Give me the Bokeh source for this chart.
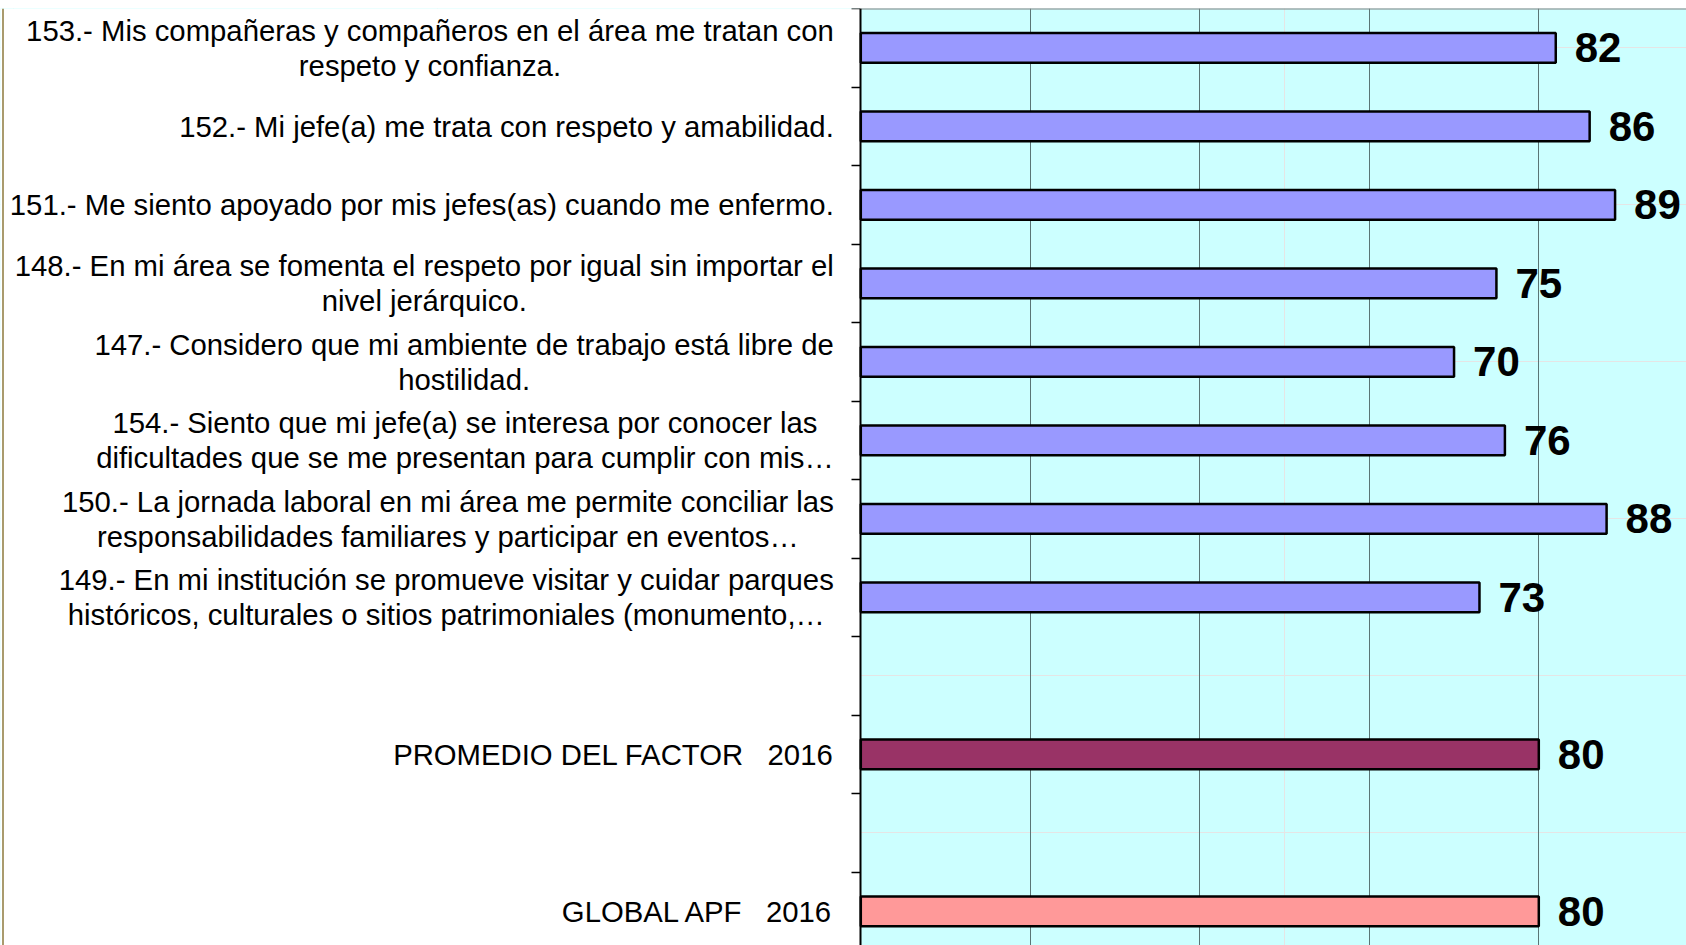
from bokeh.plotting import figure
from bokeh.models import Range1d, LinearAxis, FixedTicker, Grid, BoxAnnotation, ColumnDataSource
from bokeh.core.properties import value
from bokeh.embed import file_html
from bokeh.resources import INLINE

# ---------------- data ----------------
categories = [
    "153.- Mis compañeras y compañeros en el área me tratan con\nrespeto y confianza.",
    "152.- Mi jefe(a) me trata con respeto y amabilidad.",
    "151.- Me siento apoyado por mis jefes(as) cuando me enfermo.",
    "148.- En mi área se fomenta el respeto por igual sin importar el\nnivel jerárquico.",
    "147.- Considero que mi ambiente de trabajo está libre de\nhostilidad.",
    "154.- Siento que mi jefe(a) se interesa por conocer las\ndificultades que se me presentan para cumplir con mis…",
    "150.- La jornada laboral en mi área me permite conciliar las\nresponsabilidades familiares y participar en eventos…",
    "149.- En mi institución se promueve visitar y cuidar parques\nhistóricos, culturales o sitios patrimoniales (monumento,…",
    "",
    "PROMEDIO DEL FACTOR\u00a0\u00a0\u00a02016",
    "",
    "GLOBAL APF\u00a0\u00a0\u00a02016",
]
values = [82, 86, 89, 75, 70, 76, 88, 73, None, 80, None, 80]
bar_colors = ["#9999FF"] * 8 + [None, "#993366", None, "#FF9999"]
grid_ticks = [20, 40, 60, 80, 100]

# ---------------- layout constants ----------------
W, H = 1686, 945
FRAME_TOP = 8          # page y where plot area starts
AXIS_PX = 860.3        # page x of value 0
PX_PER_UNIT = 8.475    # pixels per value unit
SLOT_PX = 78.5         # pixels per category slot
FIRST_BOUND_PX = 8.05  # page y of top slot boundary

x_start = -AXIS_PX / PX_PER_UNIT
x_end = x_start + W / PX_PER_UNIT
y_top = -0.5 - (FIRST_BOUND_PX - FRAME_TOP) / SLOT_PX
y_bottom = y_top + (H - FRAME_TOP) / SLOT_PX

FONT = value("Liberation Sans")

p = figure(
    width=W, height=H,
    x_range=Range1d(x_start, x_end),
    y_range=Range1d(y_bottom, y_top),
    output_backend="svg", toolbar_location=None,
    x_axis_location=None, y_axis_location=None,
    min_border=0, min_border_left=0, min_border_right=0,
    min_border_top=FRAME_TOP, min_border_bottom=0,
    background_fill_color="#CCFFFF", border_fill_color="white",
    outline_line_color=None,
)

# white label area left of the value axis
p.add_layout(BoxAnnotation(right=0, fill_color="white", fill_alpha=1.0,
                           line_color=None, level="underlay"))

# vertical grid lines
p.add_layout(Grid(dimension=0, ticker=FixedTicker(ticks=grid_ticks),
                  grid_line_color="#5a7575", grid_line_width=1))

# bars
idx = [i for i, v in enumerate(values) if v is not None]
bar_src = ColumnDataSource(dict(
    y=idx,
    v=[values[i] for i in idx],
    color=[bar_colors[i] for i in idx],
    label=[str(values[i]) for i in idx],
))
p.hbar(y="y", left=0, right="v", height=0.38, fill_color="color",
       line_color="black", line_width=2.5, source=bar_src)

# value labels
p.text(x="v", y="y", text="label", source=bar_src, x_offset=19,
       text_align="left", text_baseline="middle", text_font=FONT,
       text_font_style="bold", text_font_size="42px", text_color="black")

# category labels
cidx = [i for i, c in enumerate(categories) if c]
lab_src = ColumnDataSource(dict(x=[0] * len(cidx), y=cidx,
                                text=[categories[i] for i in cidx]))
p.text(x="x", y="y", text="text", source=lab_src, x_offset=-27,
       anchor="center_right", text_align="center", text_baseline="middle",
       text_font=FONT, text_font_size="29.3px", text_line_height=1.05,
       text_color="black")

# top border of plot area
p.segment(x0=[0], y0=[-0.5], x1=[x_end], y1=[-0.5], line_color="#808080", line_width=2)

# thin outer chart border at left edge
x_left_border = (2.5 - AXIS_PX) / PX_PER_UNIT
p.segment(x0=[x_left_border], y0=[y_top], x1=[x_left_border], y1=[y_bottom],
          line_color="#8c7a3c", line_width=1.5)

# category axis line with ticks at slot boundaries
yaxis = LinearAxis(
    fixed_location=0,
    ticker=FixedTicker(ticks=[i - 0.5 for i in range(len(categories) + 1)]),
    major_tick_out=9, major_tick_in=0,
    major_tick_line_width=1.5, major_tick_line_color="black",
    minor_tick_line_color=None,
    axis_line_width=2, axis_line_color="black",
    major_label_text_color=None,
)
p.add_layout(yaxis, "left")

with open("out.html", "w", encoding="utf-8") as f:
    f.write(file_html(p, INLINE))
